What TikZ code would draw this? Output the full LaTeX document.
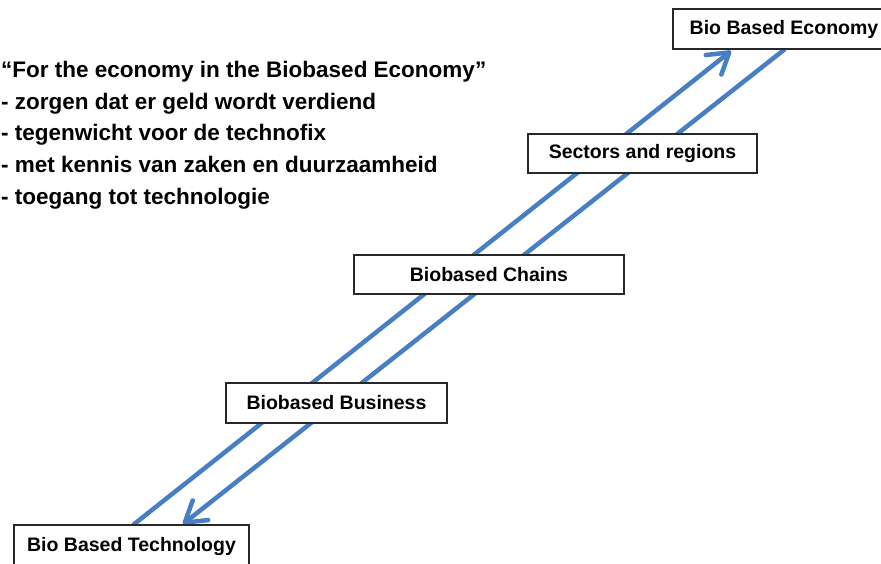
\documentclass[tikz,border=0pt]{standalone}
\usepackage{fontspec}
\newfontfamily\agency{Liberation Sans}
\usetikzlibrary{arrows.meta}
\definecolor{flowblue}{RGB}{72,126,196}
\definecolor{boxline}{RGB}{40,40,40}
\tikzset{
  levelbox/.style={draw=boxline, line width=1.6pt, fill=white, minimum height=40pt,
    inner sep=0pt, font=\agency\bfseries\fontsize{19.5}{22}\selectfont},
  flow/.style={draw=flowblue, line width=4.5pt,
    -{Straight Barb[length=20pt,width=25pt,round]}},
  notes/.style={anchor=north west, align=left, inner sep=0pt,
    font=\agency\bfseries\fontsize{22.5}{31.7}\selectfont}
}
\begin{document}
\begin{tikzpicture}[x=1pt,y=-1pt]
\useasboundingbox (0,0) rectangle (881,563);
\clip (0,0) rectangle (881,563);
% connector end points
\coordinate (upstart) at (133,525);
\coordinate (upend) at (731,51);
\coordinate (downstart) at (785,49);
\coordinate (downend) at (183,524);
\draw[flow] (upstart) -- (upend);
\draw[flow] (downstart) -- (downend);
% boxes
\node[levelbox, minimum width=222pt] (econ) at (784,29) {Bio Based Economy};
\node[levelbox, minimum width=229pt, minimum height=39pt] (sect) at (642.5,153.5) {Sectors and regions};
\node[levelbox, minimum width=270pt, minimum height=39pt] (chain) at (489,274.5) {Biobased Chains};
\node[levelbox, minimum width=221pt] (busi) at (336.5,403) {Biobased Business};
\node[levelbox, minimum width=235pt, minimum height=42pt] (tech) at (131.5,546) {Bio Based Technology};
% notes
\node[notes] (txt) at (1,61) {“For the economy in the Biobased Economy”\\
- zorgen dat er geld wordt verdiend\\
- tegenwicht voor de technofix\\
- met kennis van zaken en duurzaamheid\\
- toegang tot technologie};
\end{tikzpicture}
\end{document}
